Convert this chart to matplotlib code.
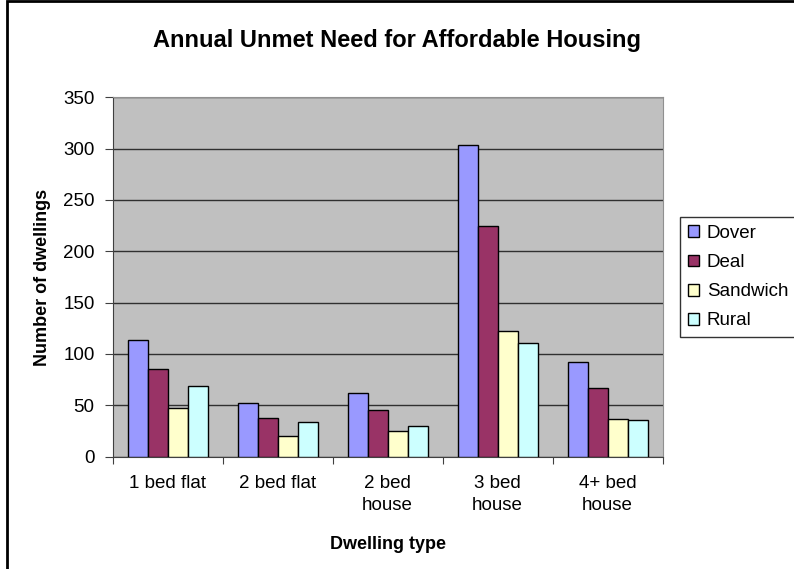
import matplotlib.pyplot as plt
import numpy as np
from matplotlib.patches import Rectangle

plt.rcParams['font.family'] = ['Liberation Sans', 'DejaVu Sans']

categories = ["1 bed flat", "2 bed flat", "2 bed\nhouse", "3 bed\nhouse", "4+ bed\nhouse"]
dover = [114, 52, 62, 304, 92]
deal = [85, 38, 45, 225, 67]
sandwich = [47, 20, 25, 122, 37]
rural = [69, 34, 30, 111, 36]

series = {"Dover": dover, "Deal": deal, "Sandwich": sandwich, "Rural": rural}
colors = ["#9999FF", "#993366", "#FFFFCC", "#CCFFFF"]

fig = plt.figure(figsize=(7.94, 5.69), dpi=100)
ax = fig.add_axes([0.1419, 0.1974, 0.8346 - 0.1419, 0.829 - 0.1974])
ax.set_facecolor("#C0C0C0")

# bars: 4 per category, 150% gap width
x = np.arange(len(categories))
w = 1 / 5.5
for i, (name, vals) in enumerate(series.items()):
    ax.bar(x + (i - 1.5) * w, vals, width=w, color=colors[i], edgecolor="black",
           linewidth=1, label=name, zorder=3)

ax.set_xlim(-0.5, len(categories) - 0.5)
ax.set_ylim(0, 350)
ax.set_yticks(range(0, 351, 50))
ax.yaxis.grid(True, color="#303030", linewidth=1, zorder=0)
ax.set_axisbelow(True)

# category boundary ticks, labels at centres
ax.set_xticks(np.arange(-0.5, len(categories), 1))
ax.set_xticklabels([])
ax.set_xticks(x, minor=True)
ax.set_xticklabels(categories, minor=True, fontsize=13.5, linespacing=1.4)
ax.tick_params(axis="x", which="major", direction="out", length=5, color="#404040")
ax.tick_params(axis="x", which="minor", length=0, pad=13)
ax.tick_params(axis="y", direction="out", length=6, color="#404040", labelsize=13.5, pad=7)

for side in ["left", "bottom"]:
    ax.spines[side].set_color("#404040")
for side in ["top", "right"]:
    ax.spines[side].set_color("#909090")

ax.set_xlabel("Dwelling type", fontsize=13, fontweight="bold", labelpad=16)
ax.set_ylabel("Number of dwellings", fontsize=13, fontweight="bold", labelpad=9)
fig.text(0.5, 1 - 40 / 569, "Annual Unmet Need for Affordable Housing",
         ha="center", va="center", fontsize=17, fontweight="bold")

leg = ax.legend(loc="upper left", bbox_to_anchor=(680 / 794, 1 - 217 / 569),
                bbox_transform=fig.transFigure, fontsize=13.5, frameon=True,
                fancybox=False, edgecolor="black", handlelength=0.6,
                handleheight=0.6, handletextpad=0.4, labelspacing=0.65,
                borderpad=0.42, borderaxespad=0)
leg.get_frame().set_linewidth(1)

# chart border
fig.patches.append(Rectangle((7 / 794, -0.05), 1.2, 1 - 1 / 569 + 0.05,
                             transform=fig.transFigure, fill=False,
                             edgecolor="black", linewidth=2))

fig.savefig("out.png", dpi=100)
